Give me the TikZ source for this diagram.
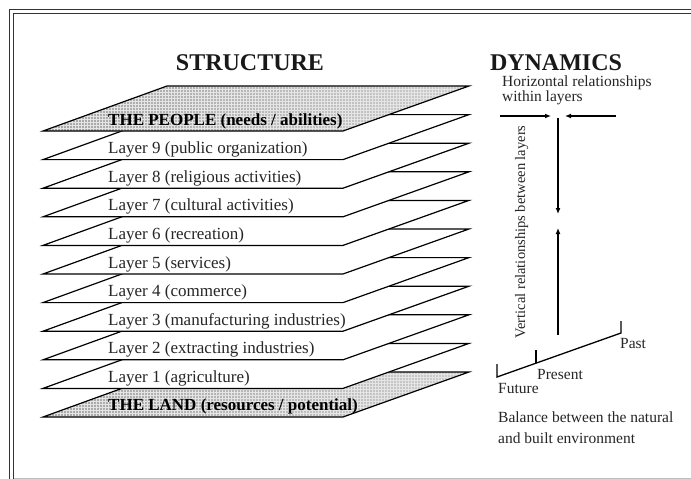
\documentclass[tikz,border=0pt]{standalone}
\usepackage{fontspec}
\setmainfont{Liberation Serif}
\usetikzlibrary{arrows.meta,patterns}
\newcommand{\sheetpath}[1]{(43,#1) -- (343,#1) -- (469,{#1-45}) -- (167,{#1-45}) -- cycle}
\tikzset{
  sheet/.style={draw=black, line width=1.2pt, fill=white, line join=miter},
  edge/.style={draw=black, line width=1.2pt, line join=miter},
  lab/.style={anchor=base west, font=\fontsize{17}{19}\selectfont, text=black!85, inner sep=0pt},
  blab/.style={anchor=base west, font=\bfseries\fontsize{17}{19}\selectfont, text=black, inner sep=0pt},
  head/.style={anchor=base, font=\bfseries\fontsize{24}{26}\selectfont, text=black!90, inner sep=0pt},
  dlab/.style={anchor=base west, font=\fontsize{15.5}{15}\selectfont, text=black!85, inner sep=0pt},
  arr/.style={line width=1.3pt, -{Latex[length=6pt,width=5pt]}},
  tline/.style={line width=1.3pt, line cap=butt}
}
\begin{document}
\begin{tikzpicture}[x=1pt,y=-1pt]
\useasboundingbox (0,0) rectangle (691,479);
\fill[white] (0,0) rectangle (691,479);
% frame
\draw[line width=1pt, black!80] (700,9.5) -- (9.5,9.5) -- (9.5,490);
\draw[line width=1pt, black!80] (700,13.5) -- (13.5,13.5) -- (13.5,490);
\draw[line width=0.8pt, black!25] (13.5,478) -- (700,478);

% headers
\node[head] (structure) at (250,70) {STRUCTURE};
\node[head] (dynamics) at (556,70) {DYNAMICS};

% THE LAND
\shade[left color=gray!70, right color=gray!40] \sheetpath{417};
\fill[pattern=grid, pattern color=white!80!gray] \sheetpath{417};
\draw[edge] \sheetpath{417};
\node[blab] (land) at (108,410) {THE LAND (resources / potential)};

% layers 1..9
\foreach \n/\lab in {1/{Layer 1 (agriculture)},
                     2/{Layer 2 (extracting industries)},
                     3/{Layer 3 (manufacturing industries)},
                     4/{Layer 4 (commerce)},
                     5/{Layer 5 (services)},
                     6/{Layer 6 (recreation)},
                     7/{Layer 7 (cultural activities)},
                     8/{Layer 8 (religious activities)},
                     9/{Layer 9 (public organization)}}{
  \pgfmathsetmacro{\b}{131+28.6*(10-\n)}
  \draw[sheet] \sheetpath{\b};
  \node[lab] (layer\n) at (108,{\b-6}) {\lab};
}

% THE PEOPLE
\shade[left color=gray!70, right color=gray!40] \sheetpath{131};
\fill[pattern=grid, pattern color=white!80!gray] \sheetpath{131};
\draw[edge] \sheetpath{131};
\node[blab] (people) at (108,125.5) {THE PEOPLE (needs / abilities)};

% dynamics
\node[dlab] (horiz1) at (502,86.5) {Horizontal relationships};
\node[dlab] (horiz2) at (502,101.5) {within layers};
\coordinate (hl0) at (500,116);
\coordinate (hl1) at (551,116);
\coordinate (hr0) at (616,116);
\coordinate (hr1) at (565,116);
\draw[arr] (hl0) -- (hl1);
\draw[arr] (hr0) -- (hr1);
\coordinate (vd0) at (558,118);
\coordinate (vd1) at (558,214);
\coordinate (vu0) at (558,335);
\coordinate (vu1) at (558,228);
\draw[arr] (vd0) -- (vd1);
\draw[arr] (vu0) -- (vu1);
\node[font=\fontsize{14.5}{15}\selectfont, text=black!85, rotate=90, anchor=base, inner sep=0pt] (vert) at (525,232) {Vertical relationships between layers};

% timeline
\coordinate (fut) at (497,377);
\coordinate (futt) at (497,364);
\coordinate (pas) at (621,333);
\coordinate (past) at (621,321);
\coordinate (pre) at (536,363.2);
\coordinate (pret) at (536,350);
\draw[tline, line join=miter] (futt) -- (fut) -- (pas) -- (past);
\draw[tline] (pre) -- (pret);
\node[dlab] (pastl) at (620,348) {Past};
\node[dlab] (presl) at (537,379) {Present};
\node[dlab] (futl) at (498,393) {Future};
\node[dlab] (bal1) at (498,422) {Balance between the natural};
\node[dlab] (bal2) at (498,443) {and built environment};
\end{tikzpicture}
\end{document}
